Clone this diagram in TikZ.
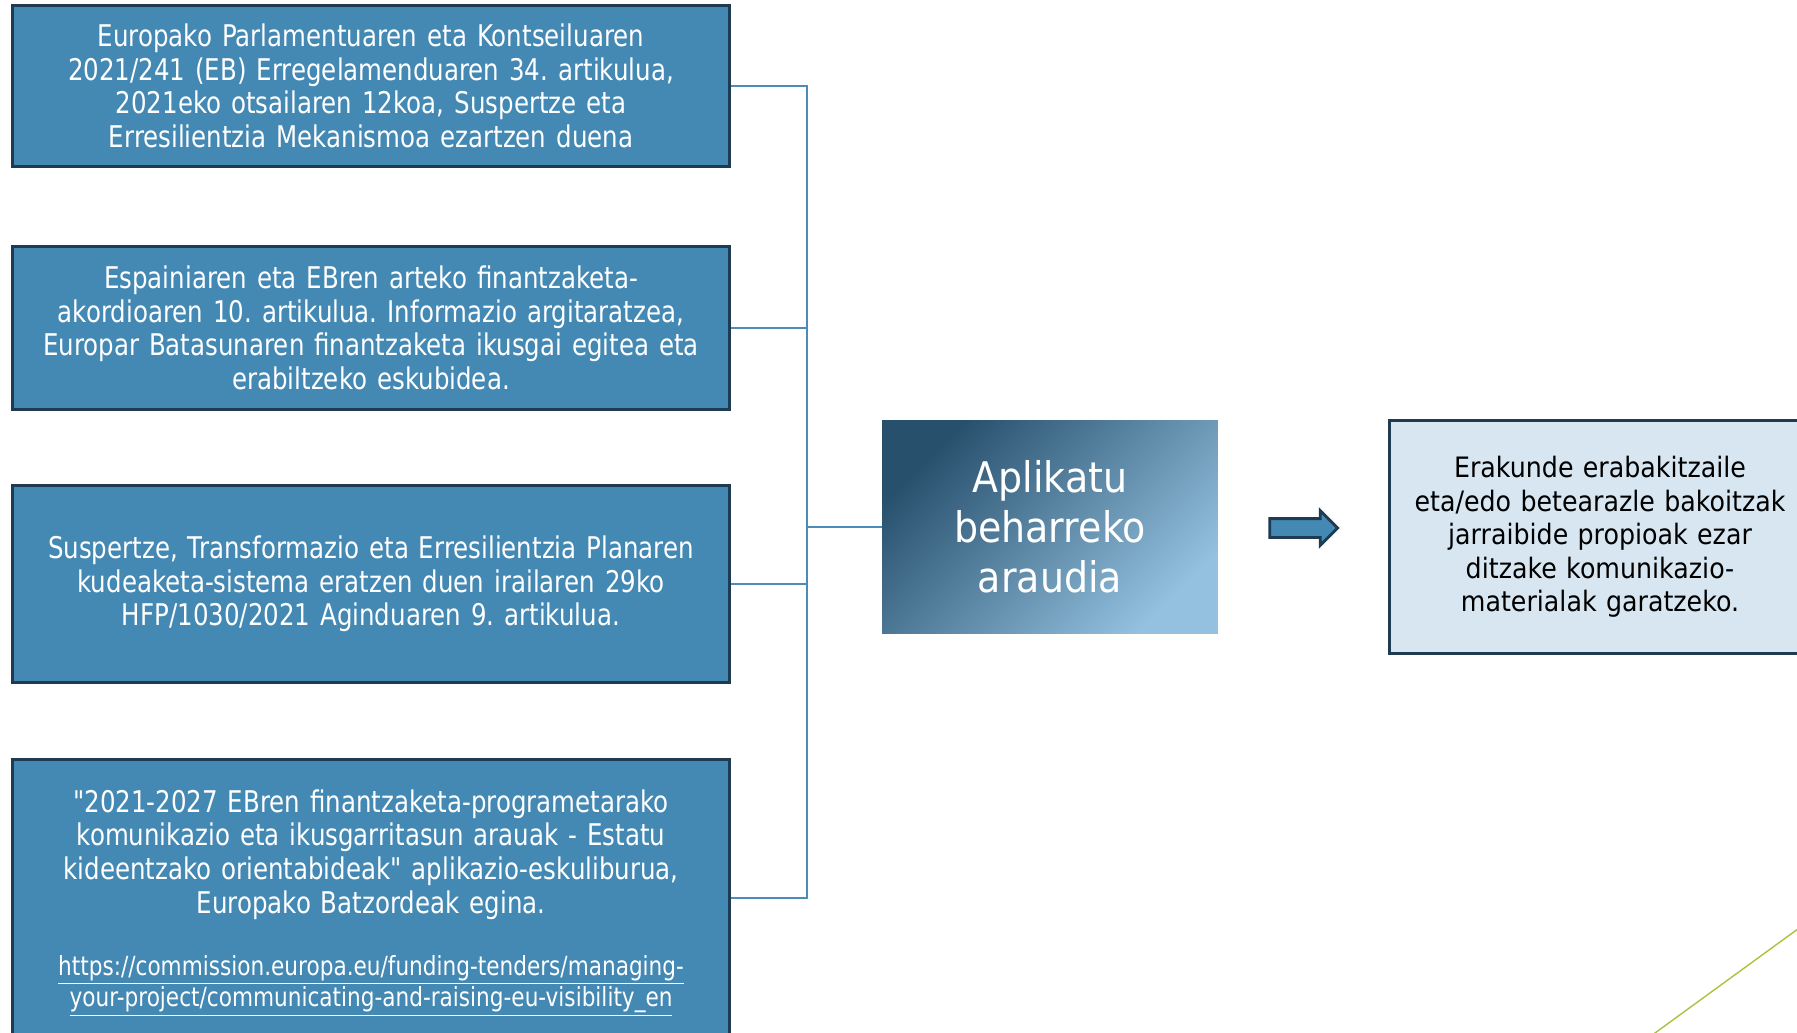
\documentclass[tikz,border=0pt]{standalone}
\usepackage{fontspec}
\setmainfont{DejaVu Sans}
\newfontfamily\condfont[FakeStretch=0.82]{DejaVu Sans}
\newfontfamily\midfont[FakeStretch=0.9]{DejaVu Sans}
\usetikzlibrary{shapes.arrows,positioning,calc}
\definecolor{boxblue}{HTML}{4389B4}
\definecolor{navy}{HTML}{1E3B52}
\definecolor{wireblue}{HTML}{4A8DBA}
\definecolor{gradtop}{HTML}{27506D}
\definecolor{gradbot}{HTML}{93C1DF}
\definecolor{pale}{HTML}{D7E6F0}
\definecolor{olive}{HTML}{A8C43C}
\tikzstyle{lblock} = [draw=navy,fill=boxblue,line width=1.7pt,minimum width=14.34cm,text width=14.2cm,align=center,inner sep=0pt,text=white,font=\condfont\fontsize{17}{19.2}\selectfont]
\tikzstyle{cblock} = [shading=axis,top color=gradtop,bottom color=gradbot,shading angle=45,minimum width=6.72cm,minimum height=4.28cm,text width=6cm,align=center,inner sep=0pt,text=white,font=\midfont\fontsize{24}{28.5}\selectfont]
\tikzstyle{rblock} = [draw=navy,fill=pale,line width=1.7pt,minimum width=8.44cm,minimum height=4.66cm,text width=8.3cm,align=center,inner sep=0pt,font=\midfont\fontsize{16}{19}\selectfont]
\tikzstyle{wire} = [draw=wireblue,line width=1.1pt]
\tikzstyle{bigarrow} = [single arrow,draw=navy,fill=boxblue,line width=1.6pt,minimum height=1.36cm,inner xsep=0pt,inner ysep=0.16cm,single arrow head extend=0.16cm]

\begin{document}
\frenchspacing
\begin{tikzpicture}[x=0.02cm,y=-0.02cm]
    \useasboundingbox (0,0) rectangle (1797,1033);
    \clip (0,0) rectangle (1797,1033);

    % source boxes
    \node[lblock,minimum height=3.24cm] (reg) at (371,86) {Europako Parlamentuaren eta Kontseiluaren\\ 2021/241 (EB) Erregelamenduaren 34. artikulua,\\ 2021eko otsailaren 12koa, Suspertze eta\\ Erresilientzia Mekanismoa ezartzen duena};
    \node[lblock,minimum height=3.26cm] (akord) at (371,328) {Espainiaren eta EBren arteko finantzaketa-\\ akordioaren 10. artikulua. Informazio argitaratzea,\\ Europar Batasunaren finantzaketa ikusgai egitea eta\\ erabiltzeko eskubidea.};
    \node[lblock,minimum height=3.94cm] (agindu) at (371,584) {Suspertze, Transformazio eta Erresilientzia Planaren\\ kudeaketa-sistema eratzen duen irailaren 29ko\\ HFP/1030/2021 Aginduaren 9. artikulua.};
    \node[lblock,minimum height=5.56cm] (gida) at (371,898) {\rule{0pt}{0.64cm}"2021-2027 EBren finantzaketa-programetarako\\ komunikazio eta ikusgarritasun arauak - Estatu\\ kideentzako orientabideak" aplikazio-eskuliburua,\\ Europako Batzordeak egina.\\[20.4pt]
      {\fontsize{15}{15}\selectfont\underline{https://commission.europa.eu/funding-tenders/managing-}\\ \underline{your-project/communicating-and-raising-eu-visibility\_en}\par}};

    % centre and result
    \node[cblock] (araudia) at (1050,527) {Aplikatu\\ beharreko\\ araudia};
    \node[bigarrow] (arr) at (1299,528) {};
    \node[rblock] (jarr) at (1600,537) {Erakunde erabakitzaile\\ eta/edo betearazle bakoitzak\\ jarraibide propioak ezar\\ ditzake komunikazio-\\ materialak garatzeko.};

    % wires
    \coordinate (bus) at (807,527);
    \draw[wire] (reg.east) -| (bus) -- (araudia.west);
    \draw[wire] (akord.east) -| (bus);
    \draw[wire] (agindu.east) -| (bus);
    \draw[wire] (gida.east) -| (bus);

    % corner line
    \draw[olive,line width=0.8pt] (1850,891) -- (1600,1073);
\end{tikzpicture}
\end{document}
